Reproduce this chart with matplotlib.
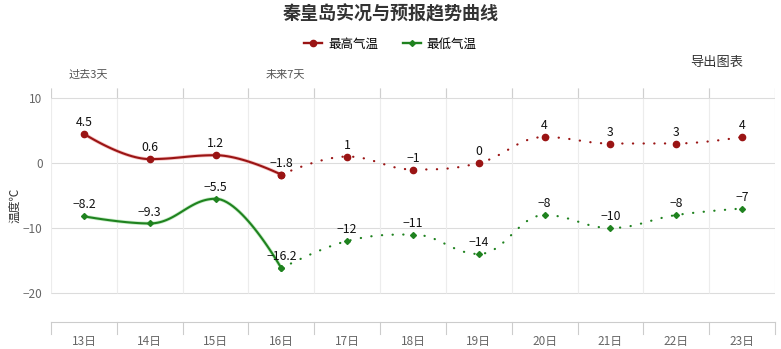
import numpy as np
import matplotlib.pyplot as plt

plt.rcParams['font.family'] = ['Noto Sans CJK SC', 'DejaVu Sans']
plt.rcParams['axes.unicode_minus'] = True

days = ['13日', '14日', '15日', '16日', '17日', '18日', '19日', '20日', '21日', '22日', '23日']
# past 3 days + today (solid), forecast (dotted) - day 16 shared
high_past = [4.5, 0.6, 1.2, -1.8]
low_past = [-8.2, -9.3, -5.5, -16.2]
high_fcst = [-1.8, 1, -1, 0, 4, 3, 3, 4]
low_fcst = [-16.2, -12, -11, -14, -8, -10, -8, -7]
yticks = [10, 0, -10, -20]

RED = '#9a1414'
GREEN = '#1f821f'


def spline(xs, ys, n=30):
    # highcharts-style smoothed bezier through points
    xs = np.asarray(xs, float)
    ys = np.asarray(ys, float)
    m = len(xs)
    lc = [(xs[i], ys[i]) for i in range(m)]
    rc = [(xs[i], ys[i]) for i in range(m)]
    s = 1.5
    d = s + 1
    for i in range(1, m - 1):
        px, py = xs[i], ys[i]
        lx, ly = xs[i - 1], ys[i - 1]
        nx, ny = xs[i + 1], ys[i + 1]
        lcx = (s * px + lx) / d
        lcy = (s * py + ly) / d
        rcx = (s * px + nx) / d
        rcy = (s * py + ny) / d
        corr = (rcy - lcy) * (rcx - px) / (rcx - lcx) + py - rcy
        lcy += corr
        rcy += corr
        if lcy > ly and lcy > py:
            lcy = max(ly, py)
            rcy = 2 * py - lcy
        elif lcy < ly and lcy < py:
            lcy = min(ly, py)
            rcy = 2 * py - lcy
        if rcy > ny and rcy > py:
            rcy = max(ny, py)
            lcy = 2 * py - rcy
        elif rcy < ny and rcy < py:
            rcy = min(ny, py)
            lcy = 2 * py - rcy
        lc[i] = (lcx, lcy)
        rc[i] = (rcx, rcy)
    t = np.linspace(0, 1, n)[:, None]
    out = []
    for i in range(m - 1):
        p0 = np.array([xs[i], ys[i]])
        p1 = np.array(rc[i])
        p2 = np.array(lc[i + 1])
        p3 = np.array([xs[i + 1], ys[i + 1]])
        seg = ((1 - t) ** 3) * p0 + 3 * ((1 - t) ** 2) * t * p1 + 3 * (1 - t) * t ** 2 * p2 + t ** 3 * p3
        out.append(seg if i == 0 else seg[1:])
    out = np.vstack(out)
    return out[:, 0], out[:, 1]


def fmt(v):
    return ('%g' % v).replace('-', '\u2212')


fig = plt.figure(figsize=(7.81, 3.49), dpi=100)
ax = fig.add_axes([51 / 781, 1 - 322 / 349, 724 / 781, 234 / 349])
ax.set_xlim(-0.5, 10.5)
ax.set_ylim(-24.46, 11.54)

x = np.arange(len(days))
xp = x[:len(high_past)]
xf = x[len(high_past) - 1:]

# grid
for yv in yticks:
    ax.axhline(yv, color='#dcdcdc', lw=0.8, zorder=0)
for b in np.arange(-0.5, 11, 1):
    ax.vlines(b, -20, 11.54, color='#ececec', lw=0.8, zorder=0)
    ax.vlines(b, 10, 11.54, color='#cfcfcf', lw=0.8, zorder=0)
    ax.plot([b, b], [-24.46, -26.3], color='#cccccc', lw=0.8, clip_on=False)

for sp in ['left', 'right', 'top']:
    ax.spines[sp].set_visible(False)
ax.spines['bottom'].set_color('#cccccc')
ax.spines['bottom'].set_linewidth(0.8)
ax.tick_params(axis='both', length=0, colors='#666666', labelsize=8.5)
ax.set_yticks(yticks)
ax.set_yticklabels([fmt(v) for v in yticks])
ax.set_xticks(x)
ax.set_xticklabels(days)
ax.tick_params(axis='x', pad=9)
ax.tick_params(axis='y', pad=6)
ax.set_ylabel('温度℃', fontsize=8.5, color='#333333', labelpad=1)

# past (solid)
for vals, col, halo, mk, ms in [(high_past, RED, '#e86060', 'o', 4.5), (low_past, GREEN, '#70d070', 'D', 3)]:
    sx, sy = spline(xp, vals)
    ax.plot(sx, sy, color=halo, lw=2.6, alpha=0.4, solid_capstyle='round', zorder=2)
    ax.plot(sx, sy, color=col, lw=1.5, zorder=3)
    ax.plot(xp, vals, ls='none', marker=mk, ms=ms, color=col, zorder=4)

# forecast (dotted)
for vals, col, mk, ms in [(high_fcst, RED, 'o', 4.5), (low_fcst, GREEN, 'D', 3)]:
    sx, sy = spline(xf, vals)
    ax.plot(sx, sy, color=col, lw=1.6, ls=(0, (0.1, 4.7)), dash_capstyle='round', zorder=3)
    ax.plot(xf, vals, ls='none', marker=mk, ms=ms, color=col, zorder=4)

# data labels
for xs_, vals in [(xp, high_past), (xp, low_past), (xf[1:], high_fcst[1:]), (xf[1:], low_fcst[1:])]:
    for xi, v in zip(xs_, vals):
        ax.annotate(fmt(v), (xi, v), xytext=(0, 3.5), textcoords='offset points',
                    ha='center', va='bottom', fontsize=8.8, color='#111111', zorder=5)

# titles and extras
fig.text(0.5, 1 - 14 / 349, '秦皇岛实况与预报趋势曲线', ha='center', va='center',
         fontsize=13, fontweight='bold', color='#333333')
fig.text(88 / 781, 1 - 75 / 349, '过去3天', ha='center', va='center', fontsize=8, color='#555555')
fig.text(285 / 781, 1 - 75 / 349, '未来7天', ha='center', va='center', fontsize=8, color='#555555')
fig.text(717 / 781, 1 - 62 / 349, '导出图表', ha='center', va='center', fontsize=9.5, color='#333333')

h1, = ax.plot([], [], color=RED, marker='o', ms=4.5, lw=1.7)
h2, = ax.plot([], [], color=GREEN, marker='D', ms=3, lw=1.7)
fig.legend([h1, h2], ['最高气温', '最低气温'], loc='center', bbox_to_anchor=(0.5, 1 - 44 / 349),
           ncol=2, frameon=False, fontsize=9, handlelength=1.4, handletextpad=0.5, columnspacing=2.0)

fig.savefig('out.png', dpi=100, facecolor='white')
